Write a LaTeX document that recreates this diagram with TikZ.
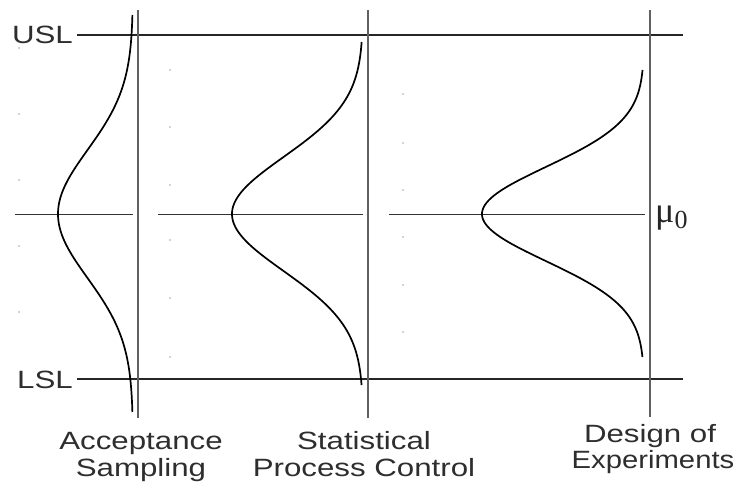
\documentclass[tikz,border=0pt]{standalone}
\usepackage{fontspec}
\setmainfont{Liberation Sans}
\newfontfamily\serifmu{Liberation Serif}
\newcommand{\wide}[1]{\scalebox{1.25}[1]{#1}}
\begin{document}
\begin{tikzpicture}[x=1pt,y=-1pt,
  vline/.style={draw=black!62,line width=2.6pt},
  hline/.style={draw=black!85,line width=1.5pt},
  mline/.style={draw=black!80,line width=1.0pt},
  bell/.style={draw=black,line width=1.7pt},
  lbl/.style={font=\fontsize{25}{27}\selectfont,text=black!82,inner sep=0pt,anchor=base},
  speck/.style={fill=black!35,draw=none}]
\useasboundingbox (0,0) rectangle (738,484);
\fill[white] (0,0) rectangle (738,484);
% coordinates
\coordinate (u1) at (77,35);  \coordinate (u2) at (683,35);
\coordinate (l1) at (77,379); \coordinate (l2) at (683,379);
\coordinate (v1t) at (138,10); \coordinate (v1b) at (138,418);
\coordinate (v2t) at (368,10); \coordinate (v2b) at (368,418);
\coordinate (v3t) at (650,10); \coordinate (v3b) at (650,417);
\coordinate (m1a) at (15,214);  \coordinate (m1b) at (133,214);
\coordinate (m2a) at (158,214); \coordinate (m2b) at (363,214);
\coordinate (m3a) at (389,214); \coordinate (m3b) at (645,214);
% specification and mean lines
\draw[hline] (u1) -- (u2);
\draw[hline] (l1) -- (l2);
\draw[mline] (m1a) -- (m1b);
\draw[mline] (m2a) -- (m2b);
\draw[mline] (m3a) -- (m3b);
% vertical axes
\draw[vline] (v1t) -- (v1b);
\draw[vline] (v2t) -- (v2b);
\draw[vline] (v3t) -- (v3b);
% bell curves
\draw[bell] plot[domain=-199:198,samples=120,smooth] ({133-75*exp(-0.5*(\x/64)^2)},{214+\x});
\draw[bell] plot[domain=-172:171,samples=120,smooth] ({363-131*exp(-0.5*(\x/57)^2)},{214+\x});
\draw[bell] plot[domain=-144:143,samples=120,smooth] ({644-162*exp(-0.5*(\x/47)^2)},{214+\x});
% faint specks
\foreach \yy in {48,114,180,246,312} \fill[speck] (19,\yy) circle (0.8);
\foreach \yy in {70,127,185,240,298,357} \fill[speck] (170,\yy) circle (0.8);
\foreach \yy in {94,143,190,237,285,332} \fill[speck] (403,\yy) circle (0.8);
% labels
\node[lbl,anchor=base east] (usl) at (73,44) {\wide{USL}};
\node[lbl,anchor=base east] (lsl) at (73,388) {\wide{LSL}};
\node[lbl] (as1) at (141,449) {\wide{Acceptance}};
\node[lbl] (as2) at (141,476) {\wide{Sampling}};
\node[lbl] (spc1) at (364,449) {\wide{Statistical}};
\node[lbl] (spc2) at (364,476) {\wide{Process Control}};
\node[lbl] (doe1) at (650,442) {\wide{Design of}};
\node[lbl] (doe2) at (653,468) {\scalebox{1.17}[1]{Experiments}};
\node[anchor=base west,inner sep=0pt,text=black!85] (mu) at (655,222)
  {\serifmu\fontsize{36}{36}\selectfont μ\raisebox{-6pt}{\fontsize{26}{26}\selectfont 0}};
\end{tikzpicture}
\end{document}
